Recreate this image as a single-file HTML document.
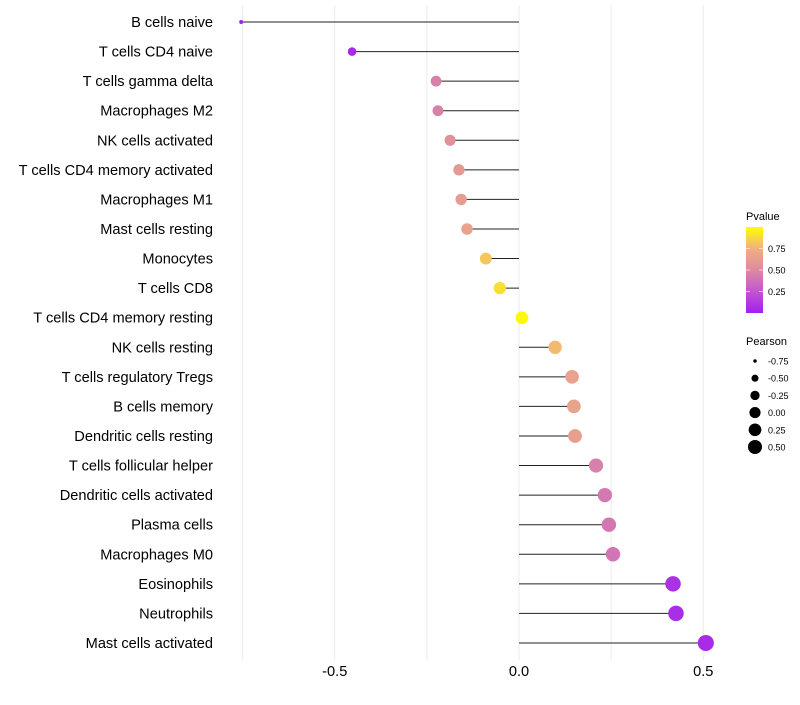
<!DOCTYPE html>
<html><head><meta charset="utf-8"><style>
body{margin:0;background:#fff;font-family:"Liberation Sans",sans-serif}
svg text{font-family:"Liberation Sans",sans-serif}
</style></head><body>
<svg id="chart" width="800" height="700">
<defs><linearGradient id="pgrad" x1="0" y1="1" x2="0" y2="0">
<stop offset="0" stop-color="#a020f0"/><stop offset="0.3" stop-color="#c860c8"/><stop offset="0.5" stop-color="#dc8aa0"/><stop offset="0.75" stop-color="#f0b080"/><stop offset="1" stop-color="#ffff00"/></linearGradient></defs>
<g id="grid"></g>
<g id="marks"></g>
<g id="ylabels"></g>
<g id="xlabels"></g>
<g>
<text x="746" y="220" font-size="11" fill="#000">Pvalue</text>
<rect x="746" y="227" width="17" height="86" fill="url(#pgrad)"/>
<g id="plegend"></g>
</g>
<g>
<text x="746" y="345" font-size="11" fill="#000">Pearson</text>
<g id="slegend"></g>
</g>
</svg>
<script>
const categories=["B cells naive","T cells CD4 naive","T cells gamma delta","Macrophages M2","NK cells activated","T cells CD4 memory activated","Macrophages M1","Mast cells resting","Monocytes","T cells CD8","T cells CD4 memory resting","NK cells resting","T cells regulatory  Tregs ","B cells memory","Dendritic cells resting","T cells follicular helper","Dendritic cells activated","Plasma cells","Macrophages M0","Eosinophils","Neutrophils","Mast cells activated"];
const pearson=[-0.754,-0.453,-0.225,-0.22,-0.187,-0.163,-0.157,-0.141,-0.09,-0.052,0.008,0.098,0.144,0.149,0.152,0.209,0.233,0.244,0.255,0.418,0.426,0.507];
const pvalue=[0.0,0.05,0.45,0.45,0.55,0.6,0.62,0.66,0.82,0.9,0.98,0.78,0.66,0.66,0.64,0.45,0.42,0.41,0.4,0.08,0.07,0.05];
const xTicks=[-0.5,0,0.5];
const xTickLabels=["-0.5","0.0","0.5"];
const gridVals=[-0.75,-0.5,-0.25,0,0.25,0.5];
const pTicks=[0.25,0.5,0.75];
const pTickLabels=["0.25","0.50","0.75"];
const sizeBreaks=[-0.75,-0.5,-0.25,0,0.25,0.5];
const sizeLabels=["-0.75","-0.50","-0.25","0.00","0.25","0.50"];
const NS="http://www.w3.org/2000/svg";
const xs=v=>519+v*368.5;
const ys=i=>22+i*29.57;
const rs=v=>Math.sqrt(Math.max(2,4+48*(v+0.75)));
const pys=p=>313-p*86;
const stops=[[0,[160,32,240]],[0.3,[200,96,200]],[0.5,[220,138,160]],[0.75,[240,176,128]],[1,[255,255,0]]];
function col(p){for(let k=1;k<stops.length;k++){if(p<=stops[k][0]){const a=stops[k-1],b=stops[k],t=(p-a[0])/(b[0]-a[0]);const c=a[1].map((x,j)=>Math.round(x+(b[1][j]-x)*t));return `rgb(${c})`;}}return "rgb(255,255,0)";}
function mk(tag,at,parent){const e=document.createElementNS(NS,tag);for(const k in at)e.setAttribute(k,at[k]);parent.appendChild(e);return e;}
const grid=document.getElementById('grid'),marks=document.getElementById('marks'),yl=document.getElementById('ylabels'),xl=document.getElementById('xlabels');
gridVals.forEach(v=>{const l=mk('line',{x1:xs(v),x2:xs(v),y1:5,y2:660,stroke:'#ebebeb','stroke-width':1},grid);

});
categories.forEach((c,i)=>{
const y=ys(i);
const ln=mk('line',{x1:xs(0),x2:xs(pearson[i]),y1:y,y2:y,stroke:'#222','stroke-width':1},marks);


const ci=mk('circle',{cx:xs(pearson[i]),cy:y,r:rs(pearson[i]),fill:col(pvalue[i])},marks);


const t=mk('text',{x:213,y:y+5,'text-anchor':'end','font-size':14.6,fill:'#000'},yl);t.textContent=c;


});
xTicks.forEach((v,i)=>{const t=mk('text',{x:xs(v),y:676,'text-anchor':'middle','font-size':14.6,fill:'#000'},xl);t.textContent=xTickLabels[i];

});
const pl=document.getElementById('plegend');
pTicks.forEach((p,i)=>{mk('line',{x1:746,x2:750,y1:pys(p),y2:pys(p),stroke:'#fff','stroke-opacity':0.6},pl);mk('line',{x1:759,x2:763,y1:pys(p),y2:pys(p),stroke:'#fff','stroke-opacity':0.6},pl);
const t=mk('text',{x:768,y:pys(p)+3.5,'font-size':9,fill:'#000'},pl);t.textContent=pTickLabels[i];

});
const sl=document.getElementById('slegend');
sizeBreaks.forEach((v,i)=>{const y=361+i*17.2;
const c=mk('circle',{cx:755,cy:y,r:Math.min(7,rs(v)*0.88),fill:'#000'},sl);


const t=mk('text',{x:768,y:y+3.5,'font-size':9,fill:'#000'},sl);t.textContent=sizeLabels[i];

});
</script>
</body></html>
